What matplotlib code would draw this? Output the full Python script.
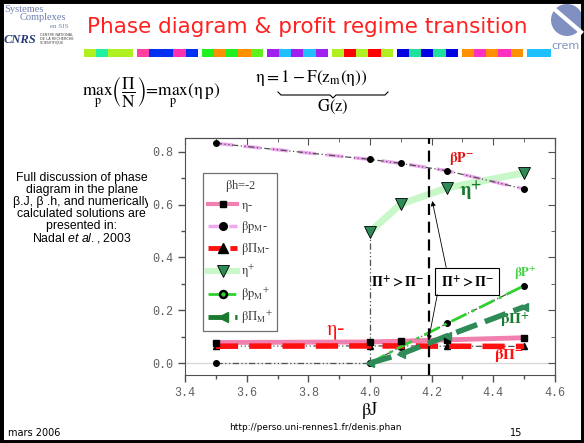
import numpy as np
import matplotlib.pyplot as plt
from matplotlib.patches import Rectangle, Ellipse
from matplotlib.lines import Line2D
from matplotlib.transforms import Bbox, TransformedBbox

plt.rcParams['mathtext.fontset'] = 'stix'
plt.rcParams['mathtext.default'] = 'rm'
plt.rcParams['mathtext.it'] = 'Liberation Sans:italic'
plt.rcParams['mathtext.rm'] = 'Liberation Sans'

# beta*J values of the numerical solutions
beta_j = [3.5, 4.0, 4.1, 4.25, 4.5]

# "minus" regime (low eta)
eta_minus = [0.078, 0.080, 0.083, 0.088, 0.096]
bp_minus = [0.832, 0.771, 0.756, 0.728, 0.659]
bpi_minus = [0.064, 0.065, 0.065, 0.064, 0.063]

# "plus" regime, exists from beta*J = 4
beta_j_plus = [4.0, 4.1, 4.25, 4.5]
eta_plus = [0.497, 0.602, 0.663, 0.720]
bp_plus = [0.0, 0.062, 0.150, 0.293]
bpi_plus = [0.0, 0.034, 0.103, 0.213]

# plus-regime profits are zero below the threshold
beta_j_zero = [3.5, 4.0]
zero_branch = [0.0, 0.0]

bj_transition = 4.19

W, H = 584, 443
fig = plt.figure(figsize=(W / 100, H / 100), dpi=100)


def fx(px):
    return px / W


def fy(py):
    return 1 - py / H


# ---------- slide decoration ----------
fig.text(fx(307), fy(27), 'Phase diagram & profit regime transition',
         color='#ff2020', fontsize=15.5, ha='center', va='center',
         family='DejaVu Sans')

strip = [
    ['#b0f020', '#20f0a0', '#b0f020', '#b0f020'],
    ['#ff40a0', '#0030f0', '#0030f0', '#ff30b0', '#0030f0'],
    ['#20f020', '#ff9000', '#20f020', '#ff9000', '#60f020'],
    ['#a020f0', '#20c0ff', '#a020f0', '#20c0ff', '#a020f0'],
    ['#b0f020', '#ff0000', '#b0f020', '#ff0000', '#b0f020'],
    ['#0000e0', '#20e0a0', '#0000e0', '#20e0a0', '#0000e0'],
    ['#ff9000', '#ff30c0', '#ff9000', '#ff30c0', '#ff9000'],
    ['#20c0ff', '#20c0ff'],
]
x0 = 84
for group in strip:
    w = 61 / 5 if len(group) > 2 else 12
    for c in group:
        fig.add_artist(Rectangle((fx(x0), fy(57)), fx(w), 8 / H,
                                 transform=fig.transFigure, color=c, lw=0))
        x0 += w
    x0 += 4

# left logos
fig.text(fx(4), fy(9), 'Systemes', family='Liberation Serif', color='#7080b0',
         fontsize=7.5, va='center')
fig.text(fx(20), fy(18), 'Complexes', family='Liberation Serif', color='#7080b0',
         fontsize=7.5, va='center')
fig.text(fx(50), fy(27), 'en SIS', family='Liberation Serif', color='#7080b0',
         fontsize=5, va='center')
fig.text(fx(4), fy(40), 'CNRS', family='Liberation Serif', color='#283c78',
         fontsize=9, va='center', style='italic', weight='bold')
for i, s in enumerate(['CENTRE NATIONAL', 'DE LA RECHERCHE', 'SCIENTIFIQUE']):
    fig.text(fx(40), fy(35 + 4 * i), s, fontsize=2.5, color='#404040',
             va='center')

# right logo
fig.add_artist(Ellipse((fx(567), fy(20)), fx(32), 32 / H,
                       transform=fig.transFigure, fc='#8090c0', ec='none'))
fig.add_artist(Line2D([fx(553), fx(581)], [fy(8), fy(32)],
                      transform=fig.transFigure, color='white', lw=3))
fig.text(fx(566), fy(46), 'crem', color='#8090c0', fontsize=8, ha='center',
         va='center')

# formulas
fig.text(fx(151), fy(92),
         r'$\max_{p}\left(\dfrac{\Pi}{N}\right)=\max_{p}\left(\eta\,p\right)$',
         fontsize=12.5, ha='center', va='center')
fig.text(fx(255), fy(78), r'$\eta = 1-F\left(z_{m}\left(\eta\right)\right)$',
         fontsize=12.5, ha='left', va='center')
bx0, bx1, by = 278, 388, 92
bxm = (bx0 + bx1) / 2
fig.add_artist(Line2D([fx(bx0), fx(bx0 + 3), fx(bxm - 3), fx(bxm), fx(bxm + 3),
                       fx(bx1 - 3), fx(bx1)],
                      [fy(by), fy(by + 3), fy(by + 3), fy(by + 6), fy(by + 3),
                       fy(by + 3), fy(by)],
                      transform=fig.transFigure, color='black', lw=0.8))
fig.text(fx(bxm), fy(107), r'$G\left(z\right)$', fontsize=12, ha='center',
         va='center')

# side note, cut by the chart on its right
note = ['Full discussion of phase', 'diagram in the plane',
        'β.J, β .h, and numerically', 'calculated solutions are',
        'presented in:', r'Nadal $\mathit{et\ al.}$, 2003']
clip = TransformedBbox(Bbox([[0, 0], [fx(148), 1]]), fig.transFigure)
for i, s in enumerate(note):
    t = fig.text(fx(81.5), fy(178 + 12 * i), s, family='Liberation Sans',
                 fontsize=8.8, ha='center', va='center', math_fontfamily='custom')
    t.set_clip_box(clip)
    t.set_clip_on(True)

# footer
fig.text(fx(8), fy(433), 'mars 2006', fontsize=7, va='center')
fig.text(fx(315), fy(428), 'http://perso.uni-rennes1.fr/denis.phan',
         fontsize=6.5, ha='center', va='center')
fig.text(fx(516), fy(433), '15', fontsize=7, ha='center', va='center')

fig.add_artist(Rectangle((0, 0), 1, 1, transform=fig.transFigure, fill=False,
                         ec='black', lw=5))

# ---------- chart ----------
ax = fig.add_axes([fx(185), fy(375), fx(555 - 185), (375 - 138) / H])
ax.set_xlim(3.4, 4.6)
ax.set_ylim(-0.045, 0.852)

guide = dict(color='#505050', lw=0.9, ls=(0, (5, 2, 1, 2, 1, 2)), zorder=3)
dots = dict(mfc='black', mec='black')
ax.axhline(0, color='#d8d8d8', lw=1, zorder=0)

c_eta_m = '#f080b0'
c_bp_m = '#f0a8f0'
c_bpi_m = '#ff1010'
c_eta_p = '#c8f8c8'
c_bp_p = '#30d030'
c_bpi_p = '#2e8b57'

# eta+ branch and its jump at beta*J = 4
ax.plot([beta_j_plus[0], beta_j_plus[0]], [0, eta_plus[0]], **guide)
ax.plot(beta_j_plus, eta_plus, color=c_eta_p, lw=5, zorder=2)
ax.plot(beta_j_plus, eta_plus, ls='none', marker='v', ms=9, mfc=c_bpi_p,
        mec='black', mew=0.6, zorder=6)

# minus branch
ax.plot(beta_j, bp_minus, color=c_bp_m, lw=2.5, ls=(0, (5, 3)), zorder=2)
ax.plot(beta_j, bp_minus, marker='o', ms=4, **dots, **guide)
ax.plot(beta_j, eta_minus, color=c_eta_m, lw=3.5, zorder=4)
ax.plot(beta_j, eta_minus, ls='none', marker='s', ms=4, color='black', zorder=6)
ax.plot(beta_j, bpi_minus, color=c_bpi_m, lw=4, ls=(0, (4, 2)), zorder=4)
ax.plot(beta_j, bpi_minus, marker='^', ms=4.5, **dots, **guide)

# plus branch profits
ax.plot(beta_j_zero, zero_branch, marker='o', ms=4, **dots, **guide)
ax.plot(beta_j_plus, bp_plus, color=c_bp_p, lw=2, ls=(0, (6, 2, 1, 2)), zorder=4)
ax.plot(beta_j_plus, bp_plus, marker='o', ms=4, **dots, **guide)
ax.plot(beta_j_plus, bpi_plus, color=c_bpi_p, lw=4, ls=(0, (4, 1.5)), zorder=5)
ax.plot(beta_j_plus, bpi_plus, ls='none', marker='<', ms=6, color=c_bpi_p,
        zorder=6)

ax.axvline(bj_transition, color='black', lw=1.6, ls=(0, (5, 3)), zorder=7)

handles = [
    Line2D([], [], color=c_eta_m, lw=3, marker='s', ms=4.5, mfc='black', mec='black'),
    Line2D([], [], color=c_bp_m, lw=2.5, ls=(0, (4, 2)), marker='o', ms=5.5,
           mfc='black', mec='black'),
    Line2D([], [], color=c_bpi_m, lw=3.5, ls=(0, (3, 1.5)), marker='^', ms=6.5,
           mfc='black', mec='black'),
    Line2D([], [], color=c_eta_p, lw=4.5, marker='v', ms=8.5, mfc=c_bpi_p,
           mec='black', mew=0.6),
    Line2D([], [], color=c_bp_p, lw=2, ls=(0, (4, 2)), marker='o', ms=5,
           mfc=c_bp_p, mec='black', mew=1.8),
    Line2D([], [], color='#1a7a30', lw=3.5, ls=(0, (4, 1.5)), marker='<', ms=7.5,
           mfc='#1a7a30', mec='#1a7a30'),
]
labels = [r'$\eta$-', r'$\beta p_{M}$-', r'$\beta \Pi_{M}$-', r'$\eta^{+}$',
          r'$\beta p_{M}{}^{+}$', r'$\beta \Pi_{M}{}^{+}$']
leg = ax.legend(handles, labels, title=r'$\beta$h=-2', loc='upper left',
                bbox_to_anchor=(0.049, 0.852), borderaxespad=0,
                prop=dict(family='Liberation Serif', size=9),
                title_fontproperties=dict(family='Liberation Serif', size=9),
                handlelength=2.3, labelspacing=0.45, handletextpad=0.3,
                borderpad=0.4, fancybox=False, edgecolor='#707070',
                framealpha=1)
leg.get_frame().set_linewidth(0.9)
for t in leg.get_texts():
    t.set_color('#404040')
leg.get_title().set_color('#404040')
leg.set_zorder(8)

# annotations
bold = dict(fontsize=10, ha='center', va='center')
ax.text(4.09, 0.31, r'$\mathbf{\Pi^{+} > \Pi^{-}}$', zorder=9, **bold)
ax.text(4.315, 0.31, r'$\mathbf{\Pi^{+} > \Pi^{-}}$', zorder=9,
        bbox=dict(boxstyle='square,pad=0.4', fc='white', ec='black', lw=0.8),
        **bold)
arrow = dict(arrowstyle='-|>', color='black', lw=0.6, mutation_scale=7)
ax.annotate('', xy=(4.2, 0.624), xytext=(4.249, 0.352), arrowprops=arrow,
            zorder=9)
ax.annotate('', xy=(4.188, 0.076), xytext=(4.22, 0.27), arrowprops=arrow,
            zorder=9)

ax.text(4.298, 0.776, r'$\mathbf{\beta P^{-}}$', color='#e01010', fontsize=10,
        ha='center', va='center')
ax.text(4.325, 0.648, r'$\mathbf{\eta^{+}}$', color='#1a7a30', fontsize=14,
        ha='center', va='center')
ax.text(4.503, 0.341, r'$\mathbf{\beta P^{+}}$', color='#40d040', fontsize=9,
        ha='center', va='center')
ax.text(4.47, 0.163, r'$\mathbf{\beta \Pi^{+}}$', color='#1a7a30', fontsize=11,
        ha='center', va='center')
ax.text(4.45, 0.03, r'$\mathbf{\beta \Pi^{-}}$', color='#ff1010', fontsize=11,
        ha='center', va='center', zorder=9)
ax.text(3.89, 0.117, r'$\eta$-', color='#ff1010', fontsize=15, ha='center',
        va='center')

# axes and ticks
ax.set_xticks(np.arange(3.4, 4.61, 0.2))
ax.set_xticks(np.arange(3.4, 4.61, 0.1), minor=True)
ax.set_yticks(np.arange(0, 0.81, 0.2))
ax.set_yticks(np.arange(0, 0.81, 0.1), minor=True)
ax.xaxis.set_major_formatter(plt.FormatStrFormatter('%.1f'))
ax.yaxis.set_major_formatter(plt.FormatStrFormatter('%.1f'))
ax.tick_params(which='both', direction='out', color='#505050', width=1)
ax.tick_params(which='major', length=5, labelsize=8.5, labelcolor='#606060')
ax.tick_params(which='minor', length=3)
for lab in ax.get_xticklabels() + ax.get_yticklabels():
    lab.set_family('Liberation Mono')
for sp in ax.spines.values():
    sp.set_color('#505050')

top = ax.secondary_xaxis('top')
top.set_xticks(np.arange(3.4, 4.61, 0.2))
top.set_xticks(np.arange(3.4, 4.61, 0.1), minor=True)
top.tick_params(which='both', direction='in', labeltop=False, color='#505050')
top.tick_params(which='major', length=5)
top.tick_params(which='minor', length=3)
right = ax.secondary_yaxis('right')
right.set_yticks(np.arange(0, 0.81, 0.2))
right.set_yticks(np.arange(0, 0.81, 0.1), minor=True)
right.tick_params(which='both', direction='in', labelright=False, color='#505050')
right.tick_params(which='major', length=5)
right.tick_params(which='minor', length=3)
top.spines['top'].set_color('#505050')
right.spines['right'].set_color('#505050')

ax.set_xlabel(r'$\beta$J', family='Liberation Serif', fontsize=13, labelpad=1)

fig.savefig('out.png', dpi=100)
